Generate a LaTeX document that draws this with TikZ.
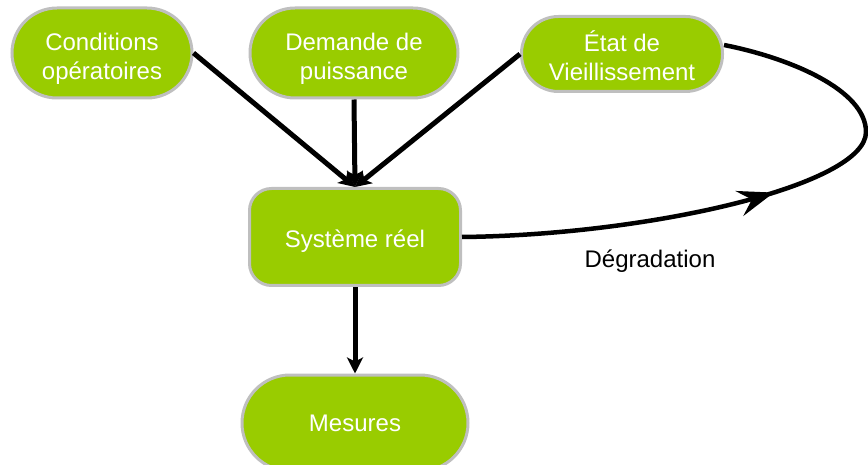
\documentclass[tikz,border=0pt]{standalone}
\usepackage{fontspec}
\setmainfont{Liberation Sans}
\usetikzlibrary{arrows.meta,decorations.markings}
\definecolor{boxgreen}{HTML}{99CC00}
\definecolor{boxborder}{HTML}{BFBFBF}
\newcommand{\lowerby}[1]{\rule{0pt}{#1}}
\begin{document}
\begin{tikzpicture}[x=1pt,y=-1pt,
  box/.style={draw=boxborder, line width=3pt, fill=boxgreen, text=white, align=center,
    font=\fontsize{24}{29}\selectfont, inner sep=0pt},
  conn/.style={line width=5pt, -{Stealth[length=16pt,width=16pt,inset=4pt]}},
  lbl/.style={font=\fontsize{24}{29}\selectfont, text=black}]
\useasboundingbox (0,0) rectangle (868,465);
\node[box, minimum width=180pt, minimum height=90pt, rounded corners=45pt] (cond) at (102,53) {\lowerby{29pt}Conditions\\opératoires};
\node[box, minimum width=208pt, minimum height=90pt, rounded corners=45pt] (dem) at (354,53) {\lowerby{29pt}Demande de\\puissance};
\node[box, minimum width=201pt, minimum height=75pt, rounded corners=37pt] (etat) at (622,54) {\lowerby{24pt}État de\\Vieillissement};
\node[box, minimum width=211pt, minimum height=97pt, rounded corners=22pt] (sys) at (355,237) {\lowerby{25pt}Système réel};
\node[box, minimum width=226pt, minimum height=96pt, rounded corners=48pt] (mes) at (355,423) {Mesures};
\coordinate (far) at (866,132);
\draw[conn] (cond.east) -- (sys.north);
\draw[conn] (dem.south) -- (sys.north);
\draw[conn] (etat.west) -- (sys.north);
\draw[conn] (sys.south) -- (mes.north);
\draw[line width=4.5pt, postaction={decorate},
  decoration={markings, mark=at position 316pt with {\arrow{Stealth[length=36pt,width=26pt,inset=13pt]}}}]
  (sys.east) .. controls (650,235) and (866,185) .. (far)
  .. controls (866,90) and (790,58) .. ([yshift=9pt]etat.east);
\node[lbl] (deg) at (650,261) {Dégradation};
\end{tikzpicture}
\end{document}
